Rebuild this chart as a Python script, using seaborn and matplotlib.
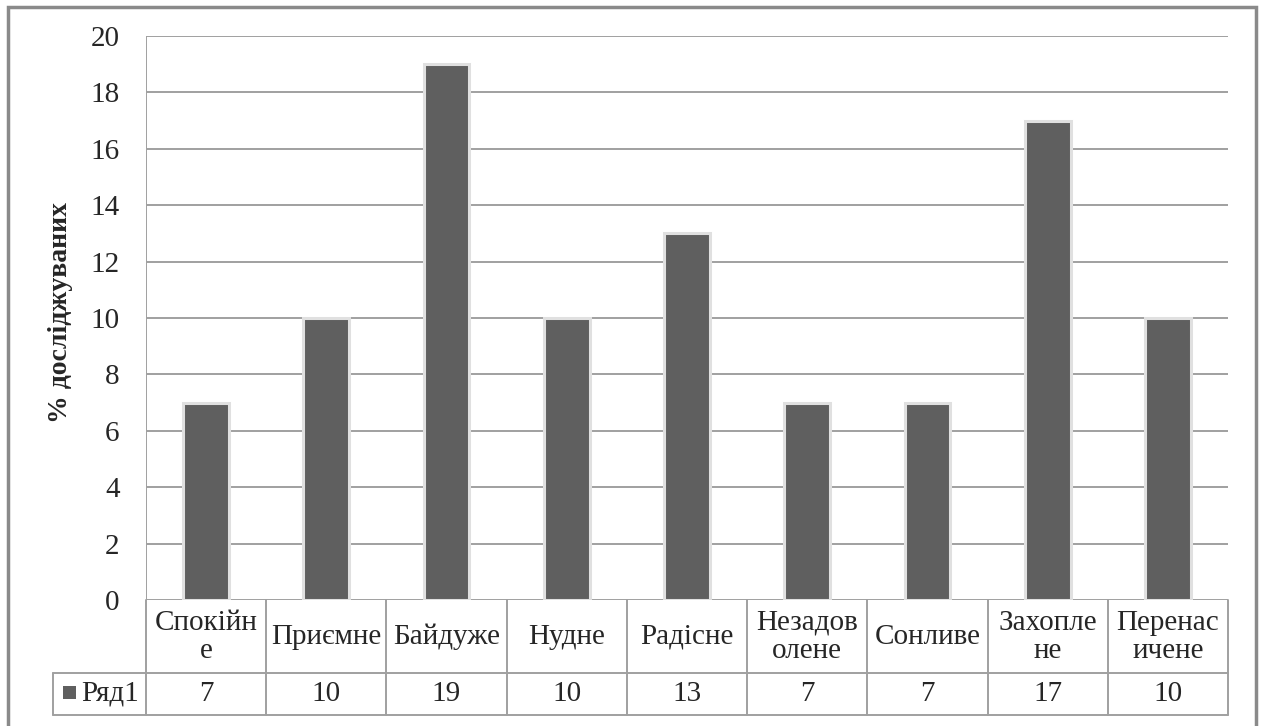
import matplotlib
matplotlib.use("Agg")
import matplotlib.pyplot as plt
from matplotlib.patches import Rectangle
from matplotlib.transforms import blended_transform_factory
import seaborn as sns
import pandas as pd

# Data
categories = ["Спокійне", "Приємне", "Байдуже", "Нудне", "Радісне",
              "Незадоволене", "Сонливе", "Захоплене", "Перенасичене"]
table_labels = ["Спокійн\nе", "Приємне", "Байдуже", "Нудне", "Радісне",
                "Незадов\nолене", "Сонливе", "Захопле\nне", "Перенас\nичене"]
values = [7, 10, 19, 10, 13, 7, 7, 17, 10]
series_name = "Ряд1"
y_label = "% досліджуваних"
y_ticks = [0, 2, 4, 6, 8, 10, 12, 14, 16, 18, 20]

sns.set_theme(style="white")
plt.rcParams["font.family"] = ["Liberation Serif", "DejaVu Serif"]

W, H = 1261, 726
FS = 21
fig = plt.figure(figsize=(W / 100, H / 100), dpi=100)
fig.patch.set_facecolor("white")

# plot area in pixel coordinates
L, R, T, B = 146, 1228, 36, 600
ax = fig.add_axes([L / W, (H - B) / H, (R - L) / W, (B - T) / H])

df = pd.DataFrame({"cat": categories, "val": values})
bar_color = "#5f5f5f"
grid_color = "#a0a0a0"

ax.set_axisbelow(True)
for t in y_ticks:
    ax.axhline(t, color=grid_color, lw=1.4, zorder=0)

sns.barplot(data=df, x="cat", y="val", color=bar_color, width=0.38,
            saturation=1, ax=ax, edgecolor="#e0e0e0", linewidth=2.2, zorder=3)

ax.set_ylim(0, 20)
ax.set_xlim(-0.5, len(categories) - 0.5)
ax.set_yticks(y_ticks)
ax.set_yticklabels([str(t) for t in y_ticks], fontsize=FS)
ax.tick_params(axis="y", length=0, pad=19)
ax.set_xticks([])
ax.set_xlabel("")
ax.set_ylabel(y_label, fontsize=20, fontweight="bold")
ax.yaxis.set_label_coords((73 - L) / (R - L), 0.51)
for s in ax.spines.values():
    s.set_visible(False)
ax.axvline(-0.5, color=grid_color, lw=1.4, zorder=1)

# data table below the plot
trans = blended_transform_factory(ax.transData, ax.transAxes)
ph = B - T
row1 = -(673 - B) / ph
row2 = -(715 - B) / ph
line_kw = dict(color=grid_color, lw=1.4, clip_on=False, transform=trans)
n = len(categories)
for k in range(n + 1):
    ax.plot([k - 0.5, k - 0.5], [0, row2], **line_kw)
col_w = (R - L) / n
legend_left = -0.5 - (L - 53) / col_w
ax.plot([legend_left, n - 0.5], [row1, row1], **line_kw)
ax.plot([legend_left, n - 0.5], [row2, row2], **line_kw)
ax.plot([legend_left, legend_left], [row1, row2], **line_kw)

for i, (lab, v) in enumerate(zip(table_labels, values)):
    ax.text(i, (0 + row1) / 2, lab, transform=trans, ha="center", va="center",
            fontsize=FS, linespacing=1.1, clip_on=False)
    ax.text(i, (row1 + row2) / 2, str(v), transform=trans, ha="center",
            va="center", fontsize=FS, clip_on=False)

# legend key inside the table
ax.text(-0.5 - (L - 81) / col_w, (row1 + row2) / 2, series_name,
        transform=trans, ha="left", va="center", fontsize=FS, clip_on=False)
fig.patches.append(Rectangle((63 / W, (H - 699) / H), 13 / W, 13 / H,
                             transform=fig.transFigure, facecolor=bar_color,
                             edgecolor="none"))

# outer chart border
fig.patches.append(Rectangle((8 / W, -10 / H), (1256 - 8) / W, (H - 7 + 10) / H,
                             transform=fig.transFigure, facecolor="none",
                             edgecolor="#8a8a8a", lw=2.5))

fig.savefig("out.png", dpi=100)
